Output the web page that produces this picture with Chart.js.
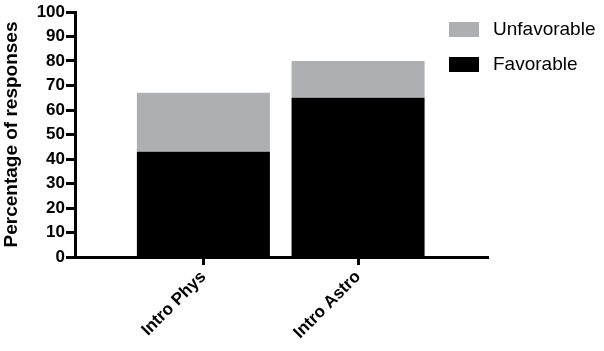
<!DOCTYPE html>
<html>
<head>
<meta charset="utf-8">
<script src="https://cdn.jsdelivr.net/npm/chart.js@4/dist/chart.umd.min.js"></script>
<style>
  html, body { margin: 0; padding: 0; background: #fff; }
  canvas { display: block; }
</style>
</head>
<body>
<canvas id="chart" width="604" height="351"></canvas>
<script>
// data
const categories = ['Intro Phys', 'Intro Astro'];
const favorable = [43, 65];
const unfavorable = [24, 15];
const yTicks = [0, 10, 20, 30, 40, 50, 60, 70, 80, 90, 100];

const FONT = '"Liberation Sans", Arial, Helvetica, sans-serif';
const GREY = '#aeafb3';

// legend drawn inside the upper right of the plot, like the original
const cornerLegend = {
    id: 'cornerLegend',
    afterDraw(chart) {
        const ctx = chart.ctx;
        const sets = chart.data.datasets.slice().reverse();
        ctx.save();
        ctx.font = '19px ' + FONT;
        ctx.textBaseline = 'middle';
        sets.forEach((ds, i) => {
            const y = 22 + i * 35;
            ctx.fillStyle = ds.backgroundColor;
            ctx.fillRect(449, y, 30, 15);
            ctx.fillStyle = '#000';
            ctx.fillText(ds.label, 493, y + 8);
        });
        ctx.restore();
    }
};

const ctx = document.getElementById('chart').getContext('2d');
new Chart(ctx, {
    type: 'bar',
    data: {
        datasets: [
            {
                label: 'Favorable',
                data: favorable.map((v, i) => ({ x: i + 1, y: v })),
                backgroundColor: '#000',
                borderWidth: 0
            },
            {
                label: 'Unfavorable',
                data: unfavorable.map((v, i) => ({ x: i + 1, y: v })),
                backgroundColor: GREY,
                borderWidth: 0
            }
        ]
    },
    options: {
        responsive: false,
        animation: false,
        devicePixelRatio: 1,
        barPercentage: 0.86,
        categoryPercentage: 1,
        layout: { padding: { top: 12, right: 116, left: 0, bottom: 0 } },
        plugins: {
            legend: { display: false },
            tooltip: { enabled: false }
        },
        scales: {
            x: {
                type: 'linear',
                stacked: true,
                offset: false,
                min: 0.17,
                max: 2.84,
                afterBuildTicks: (scale) => {
                    scale.ticks = categories.map((c, i) => ({ value: i + 1 }));
                },
                afterFit: (scale) => { scale.height = 94; },
                border: { display: true, color: '#000', width: 3 },
                grid: { offset: false, drawOnChartArea: false, drawTicks: true, tickLength: 8, tickWidth: 3, tickColor: '#000' },
                ticks: {
                    color: '#000',
                    font: { family: FONT, size: 17, weight: 'bold' },
                    minRotation: 45,
                    maxRotation: 45,
                    padding: 2,
                    callback: (v) => categories[v - 1]
                }
            },
            y: {
                stacked: true,
                min: 0,
                max: 100,
                afterBuildTicks: (scale) => {
                    scale.ticks = yTicks.map(v => ({ value: v }));
                },
                afterFit: (scale) => { scale.width = 75; },
                border: { display: true, color: '#000', width: 3 },
                grid: { drawOnChartArea: false, drawTicks: true, tickLength: 9, tickWidth: 3, tickColor: '#000' },
                ticks: {
                    color: '#000',
                    font: { family: FONT, size: 17, weight: 'bold' },
                    padding: 1
                },
                title: {
                    display: true,
                    text: 'Percentage of responses',
                    color: '#000',
                    font: { family: FONT, size: 19, weight: 'bold' },
                    padding: { top: 0, bottom: 4 }
                }
            }
        }
    },
    plugins: [cornerLegend]
});
</script>
</body>
</html>
